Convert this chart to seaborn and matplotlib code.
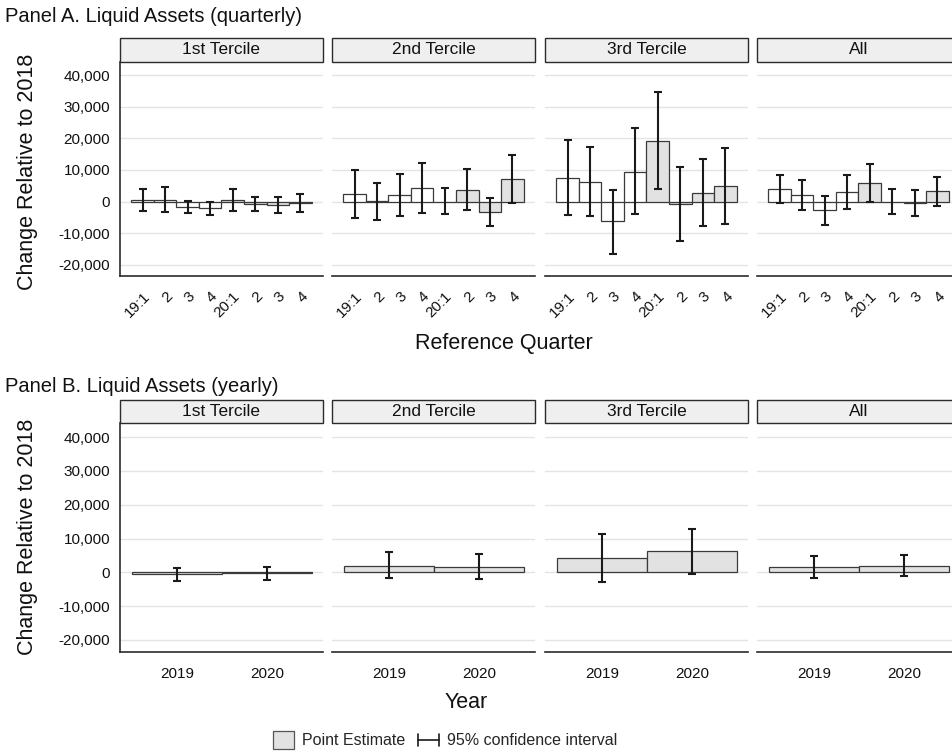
import matplotlib
matplotlib.use("Agg")
import numpy as np
import pandas as pd
import matplotlib.pyplot as plt
import seaborn as sns
from matplotlib.patches import Rectangle, Patch
from matplotlib.lines import Line2D
from matplotlib.legend_handler import HandlerBase
from matplotlib.ticker import FuncFormatter

# ---------------------------------------------------------------- data
groups = ["1st Tercile", "2nd Tercile", "3rd Tercile", "All"]

quarter_keys = ["19:1", "19:2", "19:3", "19:4", "20:1", "20:2", "20:3", "20:4"]
quarter_labels = ["19:1", "2", "3", "4", "20:1", "2", "3", "4"]
quarter_year = ["2019"] * 4 + ["2020"] * 4

# quarterly point estimates and 95% CI bounds, one row per group
q_est = [
    [500, 600, -1700, -2100, 400, -800, -1000, -400],
    [2300, 100, 2000, 4200, -100, 3600, -3300, 7100],
    [7500, 6200, -6300, 9500, 19300, -700, 2800, 4900],
    [3900, 2000, -2700, 3000, 5900, 0, -600, 3200],
]
q_lo = [
    [-2900, -3200, -3700, -4400, -2900, -3100, -3600, -3300],
    [-5300, -5800, -4700, -3700, -4100, -2700, -7900, -400],
    [-4400, -4600, -16500, -4100, 3900, -12500, -7700, -7100],
    [-600, -2800, -7300, -2400, 0, -3900, -4700, -1500],
]
q_hi = [
    [3900, 4600, 100, 0, 4000, 1300, 1300, 2500],
    [10000, 6000, 8800, 12300, 4400, 10200, 1200, 14700],
    [19500, 17200, 3800, 23200, 34700, 10900, 13400, 17000],
    [8500, 6800, 1800, 8500, 11800, 3900, 3500, 7900],
]

years = ["2019", "2020"]
y_est = [[-500, -300], [2000, 1600], [4200, 6200], [1500, 2000]]
y_lo = [[-2600, -2200], [-1700, -2000], [-2900, -500], [-1700, -1200]]
y_hi = [[1300, 1500], [5900, 5300], [11400, 12900], [4700, 5200]]

y_ticks = [-20000, -10000, 0, 10000, 20000, 30000, 40000]

# ---------------------------------------------------------------- style
sns.set_style("white")
plt.rcParams["font.family"] = ["Liberation Sans", "DejaVu Sans"]

W, H = 953, 753
GRAY = "#e2e2e2"
STRIP = "#efefef"
DARK = "#2b2b2b"
YLIM = (-23600, 44200)

fig = plt.figure(figsize=(W / 100, H / 100), dpi=100)

facet_left = [120, 332, 545, 757]
facet_w = 203


def px_axes(left, top, bottom):
    return fig.add_axes([left / W, 1 - bottom / H, facet_w / W, (bottom - top) / H])


def add_strip(ax, label, strip_px, axes_px):
    h = strip_px / axes_px
    ax.add_patch(Rectangle((0, 1), 1, h, transform=ax.transAxes, clip_on=False,
                           facecolor=STRIP, edgecolor=DARK, linewidth=1.0, zorder=5))
    ax.text(0.5, 1 + h / 2, label, transform=ax.transAxes, ha="center", va="center",
            fontsize=12.5, color="#111", zorder=6)


def style_axes(ax, first):
    ax.set_ylim(*YLIM)
    ax.set_yticks(y_ticks)
    ax.yaxis.set_major_formatter(FuncFormatter(lambda v, p: f"{int(v):,}"))
    ax.yaxis.grid(True, color="#e4e4e4", linewidth=1.0)
    ax.xaxis.grid(False)
    ax.set_axisbelow(True)
    for s in ["top", "right"]:
        ax.spines[s].set_visible(False)
    ax.spines["bottom"].set_color(DARK)
    ax.spines["bottom"].set_linewidth(1.2)
    if first:
        ax.spines["left"].set_color(DARK)
        ax.spines["left"].set_linewidth(1.2)
        ax.tick_params(axis="y", length=5, width=1.0, color=DARK, pad=2,
                       labelsize=11, labelcolor="#111")
    else:
        ax.spines["left"].set_visible(False)
        ax.tick_params(axis="y", length=0, labelleft=False)
    ax.tick_params(axis="x", length=6, width=1.0, color=DARK, labelcolor="#111")
    ax.set_xlabel("")
    ax.set_ylabel("")


def draw_ci(ax, est, lo, hi):
    est = np.asarray(est, float)
    err = np.vstack([est - np.asarray(lo), np.asarray(hi) - est])
    ax.errorbar(np.arange(len(est)), est, yerr=err, fmt="none", ecolor="#1a1a1a",
                elinewidth=1.5, capsize=2.8, capthick=1.5, zorder=4)


# ---------------------------------------------------------------- panel A
A_TOP, A_BOT = 62, 276
for i, g in enumerate(groups):
    ax = px_axes(facet_left[i], A_TOP, A_BOT)
    df = pd.DataFrame({"quarter": quarter_keys, "est": q_est[i], "year": quarter_year})
    sns.barplot(data=df, x="quarter", y="est", hue="year", order=quarter_keys,
                palette={"2019": "white", "2020": GRAY}, dodge=False, width=1.0,
                edgecolor="#3a3a3a", linewidth=0.9, legend=False, ax=ax, zorder=3)
    draw_ci(ax, q_est[i], q_lo[i], q_hi[i])
    style_axes(ax, i == 0)
    ax.set_xlim(-1.0, 8.0)
    ax.set_xticks(range(len(quarter_keys)))
    ax.set_xticklabels(quarter_labels, rotation=45, ha="right", rotation_mode="anchor",
                       fontsize=11)
    add_strip(ax, g, 24, A_BOT - A_TOP)

# ---------------------------------------------------------------- panel B
B_TOP, B_BOT = 423, 652
for i, g in enumerate(groups):
    ax = px_axes(facet_left[i], B_TOP, B_BOT)
    df = pd.DataFrame({"year": years, "est": y_est[i]})
    sns.barplot(data=df, x="year", y="est", order=years, color=GRAY, saturation=1,
                width=1.0, edgecolor="#3a3a3a", linewidth=0.9, ax=ax, zorder=3)
    draw_ci(ax, y_est[i], y_lo[i], y_hi[i])
    style_axes(ax, i == 0)
    ax.set_xlim(-0.63, 1.62)
    ax.tick_params(axis="x", labelsize=11, pad=5)
    add_strip(ax, g, 23, B_BOT - B_TOP)

# ---------------------------------------------------------------- titles and labels
fig.text(5 / W, 1 - 16 / H, "Panel A. Liquid Assets (quarterly)", fontsize=14.5,
         ha="left", va="center", color="#111")
fig.text(5 / W, 1 - 387 / H, "Panel B. Liquid Assets (yearly)", fontsize=14.5,
         ha="left", va="center", color="#111")
fig.text(28 / W, 1 - 172 / H, "Change Relative to 2018", rotation=90, fontsize=15.5,
         ha="center", va="center", color="#111")
fig.text(28 / W, 1 - 537 / H, "Change Relative to 2018", rotation=90, fontsize=15.5,
         ha="center", va="center", color="#111")
fig.text(504 / W, 1 - 343 / H, "Reference Quarter", fontsize=15.5, ha="center",
         va="center", color="#111")
fig.text(466 / W, 1 - 703 / H, "Year", fontsize=15.5, ha="center", va="center",
         color="#111")


# ---------------------------------------------------------------- legend
class CIHandler(HandlerBase):
    def create_artists(self, legend, orig_handle, xdescent, ydescent, width, height,
                       fontsize, trans):
        x0, x1 = -xdescent, -xdescent + width
        y = -ydescent + height / 2
        h = height * 0.32
        arts = [Line2D([x0, x1], [y, y]), Line2D([x0, x0], [y - h, y + h]),
                Line2D([x1, x1], [y - h, y + h])]
        for a in arts:
            a.set_color("#1a1a1a")
            a.set_linewidth(1.2)
            a.set_transform(trans)
        return arts


ci_handle = Line2D([], [])
fig.legend(handles=[Patch(facecolor=GRAY, edgecolor="#555", linewidth=0.9), ci_handle],
           labels=["Point Estimate", "95% confidence interval"],
           handler_map={ci_handle: CIHandler()}, loc="center",
           bbox_to_anchor=(445 / W, 1 - 740 / H), ncol=2, frameon=False,
           fontsize=11.5, handlelength=1.3, handleheight=1.4, handletextpad=0.5,
           columnspacing=0.8, borderpad=0)

fig.savefig("out.png", dpi=100)
